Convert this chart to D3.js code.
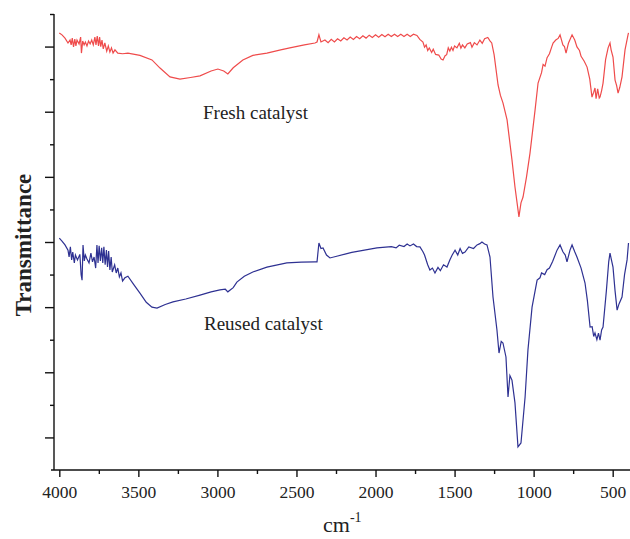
<!DOCTYPE html>
<html>
<head>
<meta charset="utf-8">
<script src="https://cdn.jsdelivr.net/npm/d3@7"></script>
<style>
  body { margin: 0; background: #fff; }
  svg { display: block; font-family: "Liberation Serif", "Times New Roman", serif; }
</style>
</head>
<body>
<script>
// FTIR spectra, [wavenumber cm-1, transmittance (arb. units)]
const freshCatalyst = [[4000,13.42],[3983,13.36],[3964,13.26],[3945,13.11],[3932,13.20],[3925,13.05],[3918,13.26],[3910,12.99],[3902,13.23],[3895,13.02],[3888,13.20],[3875,13.08],[3865,13.29],[3860,12.80],[3852,13.17],[3843,13.05],[3835,13.14],[3825,13.02],[3815,13.17],[3805,13.08],[3795,13.20],[3785,13.05],[3775,13.29],[3768,13.05],[3760,13.32],[3752,13.02],[3745,13.29],[3738,13.00],[3730,13.20],[3722,12.93],[3712,13.11],[3700,12.86],[3690,13.02],[3680,12.83],[3670,12.96],[3660,12.80],[3648,12.90],[3630,12.80],[3600,12.78],[3566,12.80],[3490,12.73],[3414,12.59],[3363,12.34],[3300,12.07],[3237,12.00],[3170,12.05],[3110,12.10],[3040,12.25],[2997,12.31],[2960,12.25],[2934,12.16],[2900,12.35],[2839,12.59],[2776,12.73],[2687,12.80],[2600,12.90],[2542,12.96],[2450,13.05],[2383,13.11],[2370,13.14],[2358,13.36],[2345,13.14],[2320,13.20],[2300,13.12],[2280,13.22],[2260,13.14],[2240,13.24],[2220,13.17],[2200,13.27],[2180,13.20],[2160,13.29],[2140,13.22],[2120,13.31],[2100,13.24],[2080,13.33],[2060,13.26],[2040,13.35],[2020,13.28],[2000,13.36],[1980,13.29],[1960,13.37],[1940,13.30],[1920,13.38],[1900,13.31],[1880,13.38],[1860,13.31],[1840,13.38],[1820,13.31],[1800,13.38],[1780,13.31],[1760,13.38],[1738,13.34],[1720,13.22],[1700,13.14],[1690,12.98],[1680,13.05],[1670,12.88],[1660,12.96],[1645,12.82],[1635,12.92],[1620,12.76],[1600,12.74],[1585,12.62],[1573,12.59],[1560,12.72],[1550,12.75],[1540,12.96],[1530,12.86],[1520,12.98],[1510,12.88],[1500,13.02],[1485,12.96],[1470,13.10],[1460,12.95],[1450,13.05],[1435,12.96],[1420,13.08],[1400,13.12],[1390,12.98],[1375,13.12],[1358,13.05],[1340,13.20],[1325,13.10],[1310,13.24],[1290,13.28],[1275,13.17],[1265,13.11],[1250,12.75],[1225,11.82],[1210,11.50],[1194,11.27],[1168,10.75],[1137,9.52],[1118,8.69],[1093,7.77],[1080,8.20],[1067,8.38],[1045,9.00],[1023,9.73],[991,11.05],[972,11.88],[950,12.20],[940,12.45],[928,12.40],[915,12.66],[900,12.78],[885,13.00],[877,13.11],[860,13.20],[845,13.25],[833,13.36],[815,13.05],[805,13.00],[795,12.80],[780,13.10],[757,13.36],[740,13.20],[726,12.99],[710,12.88],[700,12.70],[680,12.55],[662,12.37],[645,12.00],[631,11.45],[620,11.60],[612,11.73],[605,11.40],[595,11.70],[585,11.42],[580,11.45],[570,11.65],[561,11.88],[545,12.60],[529,12.96],[517,13.11],[510,12.90],[498,12.68],[485,11.97],[475,11.80],[466,11.57],[455,11.75],[441,12.07],[422,12.90],[403,13.36],[400,13.42]];

const reusedCatalyst = [[4000,7.12],[3983,7.03],[3964,6.91],[3945,6.75],[3938,6.54],[3930,6.85],[3922,6.45],[3915,6.69],[3905,6.36],[3898,6.60],[3885,6.45],[3870,6.62],[3862,6.00],[3856,5.83],[3850,6.91],[3842,6.42],[3835,6.60],[3825,6.48],[3812,6.36],[3800,6.66],[3790,6.39],[3780,6.54],[3770,6.20],[3762,6.91],[3755,6.36],[3748,6.88],[3740,6.42],[3732,6.82],[3725,6.36],[3718,6.85],[3710,6.30],[3702,6.75],[3695,6.23],[3688,6.72],[3680,6.14],[3672,6.54],[3665,6.08],[3650,6.30],[3640,6.05],[3630,6.20],[3620,5.93],[3610,6.05],[3600,5.80],[3585,5.90],[3566,5.95],[3530,5.70],[3490,5.43],[3450,5.15],[3414,5.00],[3382,4.97],[3330,5.08],[3281,5.16],[3200,5.25],[3110,5.37],[3040,5.47],[2984,5.53],[2950,5.55],[2934,5.47],[2900,5.60],[2877,5.77],[2830,5.95],[2776,6.08],[2687,6.23],[2620,6.30],[2561,6.36],[2470,6.38],[2383,6.39],[2370,6.39],[2358,6.97],[2345,6.80],[2332,6.82],[2310,6.60],[2288,6.51],[2150,6.68],[1991,6.82],[1900,6.86],[1870,6.82],[1850,6.90],[1820,6.86],[1800,6.94],[1782,6.88],[1760,6.94],[1740,6.86],[1719,6.85],[1700,6.70],[1690,6.60],[1670,6.30],[1656,6.14],[1640,6.20],[1624,6.05],[1605,6.22],[1590,6.12],[1570,6.30],[1548,6.23],[1530,6.45],[1515,6.60],[1497,6.75],[1480,6.60],[1465,6.80],[1450,6.65],[1434,6.69],[1410,6.85],[1380,6.80],[1358,6.91],[1340,6.95],[1327,7.00],[1310,6.94],[1295,6.91],[1276,6.54],[1257,5.31],[1232,4.30],[1219,3.59],[1205,3.95],[1194,3.90],[1175,3.47],[1162,2.24],[1150,2.90],[1137,2.76],[1118,2.06],[1099,0.71],[1080,0.83],[1054,2.24],[1036,3.68],[1010,5.00],[978,5.83],[960,5.90],[950,6.05],[930,6.00],[915,6.15],[900,6.20],[880,6.40],[852,6.75],[833,6.91],[815,6.70],[800,6.60],[789,6.39],[770,6.75],[757,6.91],[740,6.70],[726,6.54],[700,6.20],[675,5.74],[660,5.20],[643,4.39],[630,4.40],[620,4.10],[612,4.21],[600,4.00],[590,4.20],[580,3.99],[570,4.30],[561,4.39],[540,5.50],[525,6.40],[517,6.66],[510,6.50],[498,6.23],[485,5.50],[472,4.91],[460,5.10],[441,5.31],[425,6.00],[409,6.45],[400,6.97]];

const xMajorTicks = [4000, 3500, 3000, 2500, 2000, 1500, 1000, 500];
const xMinorTicks = [3750, 3250, 2750, 2250, 1750, 1250, 750];
const yMajorTicks = [1, 3, 5, 7, 9, 11, 13];
const yMinorTicks = [2, 4, 6, 8, 10, 12, 14];

const width = 630;
const height = 539;
const axisLeft = 54, axisBottom = 470, axisTop = 14;

var x = d3.scaleLinear()
  .domain([4000, 400])
  .range([59.3, 628.5]);

var y = d3.scaleLinear()
  .domain([0, 14])
  .range([axisBottom, axisTop]);

const svg = d3.select('body')
  .append('svg')
  .attr('width', width)
  .attr('height', height);

// y axis: ticks only, no numbers
svg.append("g")
  .attr("transform", "translate(" + axisLeft + ",0)")
  .call(d3.axisLeft(y).tickValues(yMajorTicks).tickSize(9).tickFormat(""))
  .call(g => g.select(".domain").remove());
svg.append("g")
  .attr("transform", "translate(" + axisLeft + ",0)")
  .call(d3.axisLeft(y).tickValues(yMinorTicks).tickSize(4).tickFormat(""))
  .call(g => g.select(".domain").remove());

// x axis
svg.append("g")
  .attr("transform", "translate(0," + axisBottom + ")")
  .call(d3.axisBottom(x).tickValues(xMajorTicks).tickSize(7).tickPadding(9).tickFormat(d3.format("d")))
  .call(g => g.select(".domain").remove())
  .call(g => g.selectAll("text")
    .attr("font-size", 17.5)
    .attr("font-family", "Liberation Serif, serif")
    .attr("fill", "#222"));
svg.append("g")
  .attr("transform", "translate(0," + axisBottom + ")")
  .call(d3.axisBottom(x).tickValues(xMinorTicks).tickSize(4).tickFormat(""))
  .call(g => g.select(".domain").remove());

svg.selectAll(".tick line").attr("stroke", "#111").attr("stroke-width", 1.4);

// axis frame lines
svg.append("line")
  .attr("x1", axisLeft).attr("x2", axisLeft)
  .attr("y1", axisTop).attr("y2", axisBottom)
  .attr("stroke", "#111").attr("stroke-width", 1.4);
svg.append("line")
  .attr("x1", 51).attr("x2", width)
  .attr("y1", axisBottom).attr("y2", axisBottom)
  .attr("stroke", "#111").attr("stroke-width", 1.4);

// spectra
const line = d3.line()
  .x(d => x(d[0]))
  .y(d => y(d[1]));

svg.append("path")
  .datum(freshCatalyst)
  .attr("fill", "none")
  .attr("stroke", "#ef4b4b")
  .attr("stroke-width", 1.2)
  .attr("d", line);

svg.append("path")
  .datum(reusedCatalyst)
  .attr("fill", "none")
  .attr("stroke", "#2e3192")
  .attr("stroke-width", 1.2)
  .attr("d", line);

// labels
svg.append("text")
  .attr("x", 203).attr("y", 119)
  .attr("font-size", 19)
  .attr("fill", "#222")
  .text("Fresh catalyst");

svg.append("text")
  .attr("x", 204).attr("y", 330)
  .attr("font-size", 19)
  .attr("fill", "#222")
  .text("Reused catalyst");

svg.append("text")
  .attr("transform", "translate(31,245) rotate(-90)")
  .attr("text-anchor", "middle")
  .attr("font-size", 23)
  .attr("font-weight", "bold")
  .attr("fill", "#222")
  .text("Transmittance");

const xTitle = svg.append("text")
  .attr("x", 323).attr("y", 532)
  .attr("font-size", 22)
  .attr("fill", "#222");
xTitle.append("tspan").text("cm");
xTitle.append("tspan")
  .attr("font-size", 14)
  .attr("dy", -10)
  .text("-1");
</script>
</body>
</html>
